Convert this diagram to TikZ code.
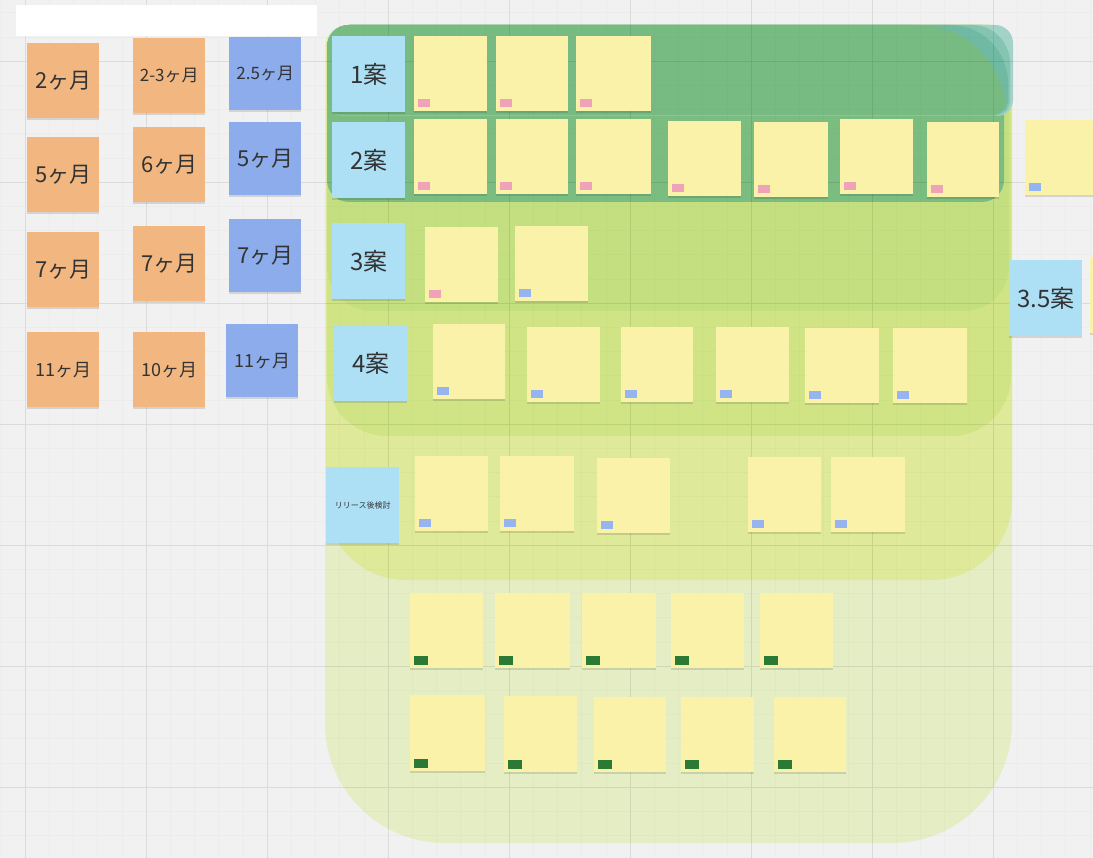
\documentclass[tikz,border=0pt]{standalone}
\usepackage{fontspec}
\newfontfamily\jpfont{Noto Sans CJK JP}
\usetikzlibrary{shadows}
\definecolor{board}{HTML}{F1F1F1}
\definecolor{orangenote}{HTML}{F2B780}
\definecolor{bluenote}{HTML}{8CACEC}
\definecolor{plannote}{HTML}{ADDFF5}
\definecolor{memonote}{HTML}{FAF2A9}
\definecolor{tagpink}{HTML}{EFA2B8}
\definecolor{tagblue}{HTML}{96B4F0}
\definecolor{taggreen}{HTML}{2A7A36}
\definecolor{zoneA}{HTML}{78BB82}
\definecolor{zoneB}{HTML}{7BBD80}
\definecolor{zoneC}{HTML}{C4DF80}
\definecolor{zoneD}{HTML}{D0E486}
\definecolor{zoneE}{HTML}{DEE999}
\definecolor{zoneF}{HTML}{E5EDC4}
\definecolor{tealA}{HTML}{A3D3C6}
\definecolor{tealB}{HTML}{84C4B1}
\definecolor{tealC}{HTML}{70B9A2}
\definecolor{inktext}{HTML}{333333}
% colour, left, top, right, bottom, top right radius, bottom radius
\newcommand{\roundzone}[7]{%
  \fill[#1] (#2,#3+22) arc[start angle=180,end angle=90,radius=22pt] -- (#4-#6,#3)
    arc[start angle=90,end angle=0,radius=#6pt] -- (#4,#5-#7)
    arc[start angle=0,end angle=-90,radius=#7pt] -- (#2+#7,#5)
    arc[start angle=-90,end angle=-180,radius=#7pt] -- cycle;}

\begin{document}
\begin{tikzpicture}[x=1pt,y=-1pt,
sticky/.style={rectangle,inner sep=0pt,anchor=north west,minimum width=73pt,minimum height=75pt,
  text=inktext,general shadow={fill=black,opacity=.12,shadow yshift=-1.5pt}},
bigtext/.style={font=\jpfont\fontsize{22pt}{24pt}\selectfont},
midtext/.style={font=\jpfont\fontsize{18pt}{20pt}\selectfont},
smalltext/.style={font=\jpfont\fontsize{17pt}{19pt}\selectfont},
month/.style={sticky,fill=orangenote,minimum width=72pt},
estimate/.style={sticky,fill=bluenote,minimum width=72pt,minimum height=73pt},
plan/.style={sticky,fill=plannote,minimum height=76pt,font=\jpfont\fontsize{24pt}{26pt}\selectfont},
memo/.style={sticky,fill=memonote},
pinkmemo/.style={memo,path picture={\fill[tagpink] ([shift={(4pt,4pt)}]path picture bounding box.south west) rectangle ++(12pt,8pt);}},
bluememo/.style={memo,path picture={\fill[tagblue] ([shift={(4pt,4pt)}]path picture bounding box.south west) rectangle ++(12pt,8pt);}},
greenmemo/.style={memo,path picture={\fill[taggreen] ([shift={(4pt,3pt)}]path picture bounding box.south west) rectangle ++(14pt,9pt);}}]
\useasboundingbox (0,0) rectangle (1093,858);
\clip (0,0) rectangle (1093,858);
\fill[board] (0,0) rectangle (1093,858);

% nested zones, widest first
\roundzone{zoneF}{325}{25}{1012}{843}{22}{120}
\roundzone{zoneE}{326}{25}{1012}{580}{22}{80}
\roundzone{zoneD}{327}{25}{1011}{436}{22}{60}
\roundzone{zoneC}{327}{25}{1009}{311}{22}{45}
\roundzone{zoneB}{327}{25}{1004}{202}{22}{22}
\roundzone{tealA}{327}{25}{1013}{116}{18}{16}
\roundzone{tealB}{327}{25}{1010}{116}{38}{16}
\roundzone{tealC}{327}{25}{1008}{115}{58}{16}
\roundzone{zoneA}{327}{25}{1006}{115}{88}{14}

% board grid
\draw[black,opacity=.02,line width=.5pt,step=24.2pt,shift={(25,61)}] (-25,-61) grid (1068,797);
\draw[black,opacity=.07,line width=.8pt,step=121pt,shift={(25,61)}] (-25,-61) grid (1068,797);

\node (banner) [fill=white,inner sep=0pt,minimum width=301pt,minimum height=31pt,anchor=north west] at (16,5) {};

% months
\node (ora1) [month,bigtext] at (27,43) {2ヶ月};
\node (ora2) [month,bigtext] at (27,137) {5ヶ月};
\node (ora3) [month,bigtext] at (27,232) {7ヶ月};
\node (ora4) [month,midtext] at (27,332) {11ヶ月};
\node (orb1) [month,smalltext] at (133,38) {2-3ヶ月};
\node (orb2) [month,bigtext] at (133,127) {6ヶ月};
\node (orb3) [month,bigtext] at (133,226) {7ヶ月};
\node (orb4) [month,midtext] at (133,332) {10ヶ月};
\node (blu1) [estimate,smalltext] at (229,37) {2.5ヶ月};
\node (blu2) [estimate,bigtext] at (229,122) {5ヶ月};
\node (blu3) [estimate,bigtext] at (229,219) {7ヶ月};
\node (blu4) [estimate,midtext] at (226,324) {11ヶ月};

% plans
\node (plan1) [plan] at (332,36) {1案};
\node (plan2) [plan] at (332,122) {2案};
\node (plan3) [plan] at (332,223) {3案};
\node (plan4) [plan] at (334,325) {4案};
\node (release) [plan,font=\jpfont\fontsize{8pt}{9pt}\selectfont] at (326,467) {リリース後検討};
\node (plan35) [plan] at (1009,260) {3.5案};

% memos
\node (r1a) [pinkmemo] at (414,36) {};
\node (r1b) [pinkmemo,minimum width=72pt] at (496,36) {};
\node (r1c) [pinkmemo,minimum width=75pt] at (576,36) {};
\node (r2a) [pinkmemo] at (414,119) {};
\node (r2b) [pinkmemo,minimum width=72pt] at (496,119) {};
\node (r2c) [pinkmemo,minimum width=75pt] at (576,119) {};
\node (r2d) [pinkmemo] at (668,121) {};
\node (r2e) [pinkmemo,minimum width=74pt] at (754,122) {};
\node (r2f) [pinkmemo] at (840,119) {};
\node (r2g) [pinkmemo,minimum width=72pt] at (927,122) {};
\node (r2h) [bluememo] at (1025,120) {};
\node (r3a) [pinkmemo] at (425,227) {};
\node (r3b) [bluememo] at (515,226) {};
\node (r4a) [bluememo,minimum width=72pt] at (433,324) {};
\node (r4b) [bluememo] at (527,327) {};
\node (r4c) [bluememo,minimum width=72pt] at (621,327) {};
\node (r4d) [bluememo] at (716,327) {};
\node (r4e) [bluememo,minimum width=74pt] at (805,328) {};
\node (r4f) [bluememo,minimum width=74pt] at (893,328) {};
\node (r4g) [memo] at (1090,258) {};
\node (r5a) [bluememo] at (415,456) {};
\node (r5b) [bluememo,minimum width=74pt] at (500,456) {};
\node (r5c) [bluememo] at (597,458) {};
\node (r5d) [bluememo] at (748,457) {};
\node (r5e) [bluememo,minimum width=74pt] at (831,457) {};
\node (r6a) [greenmemo] at (410,593) {};
\node (r6b) [greenmemo,minimum width=75pt] at (495,593) {};
\node (r6c) [greenmemo,minimum width=74pt] at (582,593) {};
\node (r6d) [greenmemo] at (671,593) {};
\node (r6e) [greenmemo] at (760,593) {};
\node (r7a) [greenmemo,minimum width=75pt,minimum height=76pt] at (410,695) {};
\node (r7b) [greenmemo,minimum height=76pt] at (504,696) {};
\node (r7c) [greenmemo,minimum width=72pt] at (594,697) {};
\node (r7d) [greenmemo] at (681,697) {};
\node (r7e) [greenmemo,minimum width=72pt] at (774,697) {};
\end{tikzpicture}
\end{document}
